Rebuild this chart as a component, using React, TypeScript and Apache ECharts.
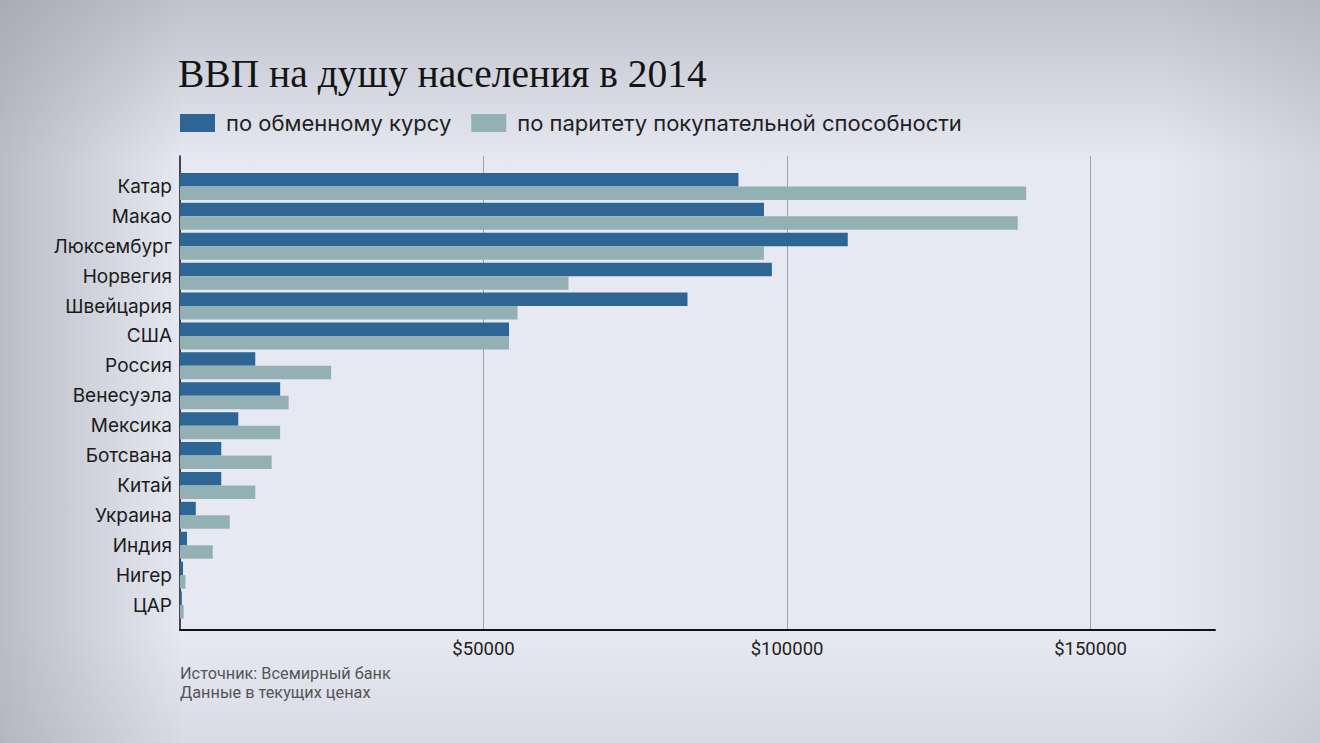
import React, { useEffect, useRef } from "react";
import * as echarts from "echarts";

const categories = ["Катар", "Макао", "Люксембург", "Норвегия", "Швейцария", "США", "Россия", "Венесуэла", "Мексика", "Ботсвана", "Китай", "Украина", "Индия", "Нигер", "ЦАР"];
const exchangeRate = [92000, 96200, 110000, 97500, 83600, 54200, 12400, 16500, 9600, 6800, 6800, 2600, 1150, 500, 300];
const ppp = [139400, 138000, 96200, 64000, 55600, 54200, 24900, 17900, 16500, 15100, 12400, 8200, 5400, 900, 600];
const xTicks = [50000, 100000, 150000];
const seriesNames = ["по обменному курсу", "по паритету покупательной способности"];
const titleText = "ВВП на душу населения в 2014";
const sourceLines = ["Источник: Всемирный банк", "Данные в текущих ценах"];

const X_MAX = 170500;

export default function App() {
  const ref = useRef<HTMLDivElement>(null);
  useEffect(() => {
    document.body.style.margin = "0";
    const chart = echarts.init(ref.current!, null, { renderer: "svg" });
    chart.setOption({
      animation: false,
      backgroundColor: "transparent",
      textStyle: { fontFamily: "Inter" },
      legend: {
        data: seriesNames,
        left: 175,
        top: 107,
        icon: "rect",
        itemWidth: 35,
        itemHeight: 18,
        itemGap: 20,
        textStyle: { fontSize: 22, color: "#1f1f1f", fontFamily: "Inter", padding: [0, 0, 0, 6] },
      },
      graphic: [
        {
          type: "text",
          left: 178,
          top: 54,
          style: { text: titleText, fontFamily: "Liberation Serif", fontSize: 39.5, fill: "#141414" },
        },
        {
          type: "text",
          left: 180,
          top: 665,
          style: { text: sourceLines[0], fontFamily: "Roboto", fontSize: 16.3, fill: "#555" },
        },
        {
          type: "text",
          left: 180,
          top: 684,
          style: { text: sourceLines[1], fontFamily: "Roboto", fontSize: 16.3, fill: "#555" },
        },
      ],
      grid: [
        { left: 180, top: 171.5, width: 1035, height: 448.5 },
        { left: 180, top: 156, width: 1035, height: 474 },
      ],
      xAxis: [
        { type: "value", gridIndex: 0, min: 0, max: X_MAX, show: false, splitLine: { show: false } },
        {
          type: "value",
          gridIndex: 1,
          min: 0,
          max: X_MAX,
          interval: 50000,
          axisLine: { show: true, onZero: false, lineStyle: { color: "#111", width: 2 } },
          axisTick: { show: false },
          splitLine: {
            show: true,
            lineStyle: { color: ["rgba(0,0,0,0)", "#9ea2ac", "#9ea2ac", "#9ea2ac", "rgba(0,0,0,0)"], width: 1 },
          },
          axisLabel: {
            margin: 9,
            fontFamily: "Roboto",
            fontSize: 18.5,
            color: "#222",
            formatter: (v: number) => (xTicks.includes(v) ? "$" + v : ""),
          },
        },
      ],
      yAxis: [
        {
          type: "category",
          gridIndex: 0,
          data: categories,
          inverse: true,
          axisLine: { show: false },
          axisTick: { show: false },
          splitLine: { show: false },
          axisLabel: { fontSize: 19, color: "#1b1b1b", margin: 8, fontFamily: "Inter" },
        },
        {
          type: "value",
          gridIndex: 1,
          min: 0,
          max: 1,
          axisLine: { show: true, onZero: false, lineStyle: { color: "#111", width: 1.5 } },
          axisTick: { show: false },
          axisLabel: { show: false },
          splitLine: { show: false },
        },
      ],
      series: [
        {
          name: seriesNames[0],
          type: "bar",
          xAxisIndex: 0,
          yAxisIndex: 0,
          data: exchangeRate,
          barWidth: 13.5,
          barGap: "0%",
          itemStyle: { color: "#2d6595" },
        },
        {
          name: seriesNames[1],
          type: "bar",
          xAxisIndex: 0,
          yAxisIndex: 0,
          data: ppp,
          barWidth: 13.5,
          barGap: "0%",
          itemStyle: { color: "#93b1b5" },
        },
      ],
    });
    return () => chart.dispose();
  }, []);
  return (
    <div
      style={{
        position: "fixed",
        left: 0,
        top: 0,
        width: 1320,
        height: 743,
        background:
          "linear-gradient(90deg, rgba(150,153,165,0.55) 0%, rgba(150,153,165,0) 14%, rgba(150,153,165,0) 88%, rgba(150,153,165,0.25) 100%), linear-gradient(180deg, rgba(160,163,175,0.55) 0%, rgba(160,163,175,0) 22%, rgba(160,163,175,0) 85%, rgba(160,163,175,0.2) 100%), #e6e9f1",
      }}
    >
      <div ref={ref} style={{ width: 1320, height: 743 }} />
    </div>
  );
}
